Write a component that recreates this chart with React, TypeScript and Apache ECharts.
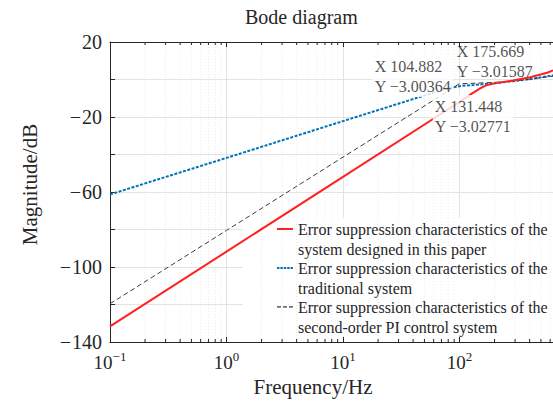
import React, { useEffect, useRef } from 'react';
import * as echarts from 'echarts';

// ---- data ----
const FREQ_RED = [0.1, 1, 10, 100, 128.5, 150.5, 172.8, 210.6, 288.8, 403.9, 565, 636, 700];
const MAG_RED = [-131.7, -91.8, -51.9, -12.0, -7.4, -4.7, -2.9, -1.8, -0.5, 1.2, 3.6, 4.9, 6.0];

const FREQ_BLUE = [0.1, 1, 10, 64.4, 80, 104.9, 128.5, 223.4, 428.6, 636, 700];
const MAG_BLUE = [-61.3, -41.8, -22.2, -6.4, -4.6, -3.4, -3.0, -1.7, 0.4, 2.2, 2.9];

const FREQ_PI = [0.1, 1, 10, 61.9, 99.4, 194.5, 300, 636, 700];
const MAG_PI = [-119.6, -80.5, -41.4, -10.5, -2.3, -1.6, -0.8, 1.8, 2.4];

const TIP_X = [104.882, 175.669, 131.448];
const TIP_Y = [-3.00364, -3.01587, -3.02771];

const NAME_RED = 'Error suppression characteristics of the\nsystem designed in this paper';
const NAME_BLUE = 'Error suppression characteristics of the\ntraditional system';
const NAME_PI = 'Error suppression characteristics of the\nsecond-order PI control system';

const X_MIN = 0.1;
const X_MAX = 1000;
const X_LAST_LABEL = 100;
const Y_MIN = -140;
const Y_MAX = 20;
const Y_STEP = 20;

const MINOR_FREQS = [
  0.2, 0.3, 0.4, 0.5, 0.6, 0.7, 0.8, 0.9,
  2, 3, 4, 5, 6, 7, 8, 9,
  20, 30, 40, 50, 60, 70, 80, 90,
  200, 300, 400, 500, 600, 700, 800, 900,
];

const zip = (xs: number[], ys: number[]) => xs.map((x, i) => [x, ys[i]]);

// legend icons: a short line at the top of a 16x22 box (tiny speck keeps the box height)
const SPECK = ' M0,22H0.01V22.01H0Z';
const ICON_SOLID = 'path://M0,0H16V2H0Z' + SPECK;
const ICON_DOTTED =
  'path://M0,0H2.4V2H0Z M3.4,0H5.8V2H3.4Z M6.8,0H9.2V2H6.8Z M10.2,0H12.6V2H10.2Z M13.6,0H16V2H13.6Z' + SPECK;
const ICON_DASHED = 'path://M0,0.4H4V1.6H0Z M6,0.4H10V1.6H6Z M12,0.4H16V1.6H12Z' + SPECK;

export default function App() {
  const ref = useRef<HTMLDivElement>(null);

  useEffect(() => {
    const chart = echarts.init(ref.current!, null, { renderer: 'svg' });
    const font = 'Liberation Serif';
    const ink = '#262626';

    const xLabel = (v: number) => {
      if (v > X_LAST_LABEL * 1.01) return '';
      const e = Math.round(Math.log10(v));
      const exp = e < 0 ? '−' + Math.abs(e) : String(e);
      return `{b|10}{s|${exp}}`;
    };
    const yLabel = (v: number) => {
      if ((v - Y_MAX) % (2 * Y_STEP) !== 0) return '';
      return v < 0 ? `{m|−}{n|${-v}}` : `{n|${v}}`;
    };

    const tipStyles = [
      { position: [-88.7, -29.6], bg: '#ffffff' },
      { position: [-32.8, -44.6], bg: 'transparent' },
      { position: [-40.1, 10.4], bg: '#ffffff' },
    ];

    const tipData = TIP_X.map((x, i) => ({
      value: [x, TIP_Y[i]],
      label: {
        show: true,
        position: tipStyles[i].position,
        formatter: `X ${x}\nY −${Math.abs(TIP_Y[i])}`,
        backgroundColor: tipStyles[i].bg,
        padding: [1, 2, 1, 2],
        fontFamily: font,
        fontSize: 16,
        lineHeight: 20,
        color: ink,
      },
    }));

    const option: any = {
      animation: false,
      backgroundColor: '#ffffff',
      textStyle: { fontFamily: font },
      title: {
        text: 'Bode diagram',
        left: 240,
        top: 2,
        textStyle: { fontFamily: font, fontSize: 20, fontWeight: 'normal', color: ink },
      },
      grid: { left: 110, right: 4, top: 42, bottom: 62 },
      legend: {
        data: [
          { name: NAME_RED, icon: ICON_SOLID },
          { name: NAME_BLUE, icon: ICON_DOTTED },
          { name: NAME_PI, icon: ICON_DASHED },
        ],
        orient: 'vertical',
        left: 242,
        top: 219,
        padding: [0, 0, 0, 35],
        itemWidth: 16,
        itemHeight: 22,
        itemGap: -1,
        textStyle: {
          fontFamily: font,
          fontSize: 16,
          lineHeight: 20,
          color: ink,
        },
      },
      graphic: [
        {
          type: 'rect',
          z: 1,
          silent: true,
          shape: { x: 243, y: 218, width: 400, height: 118 },
          style: { fill: '#ffffff' },
        },
      ],
      xAxis: [
        {
          type: 'log',
          logBase: 10,
          min: X_MIN,
          max: X_MAX,
          position: 'bottom',
          axisLine: { show: true, onZero: false, lineStyle: { color: ink, width: 1 } },
          axisTick: { show: true, inside: true, length: 5, lineStyle: { color: ink } },
          axisLabel: {
            formatter: xLabel,
            margin: 8,
            rich: {
              b: { fontFamily: font, fontSize: 19, color: ink, lineHeight: 24 },
              s: { fontFamily: font, fontSize: 13, color: ink, verticalAlign: 'top', lineHeight: 14 },
            },
          },
          splitLine: { show: true, lineStyle: { color: '#e3e3e3', width: 1 } },
          name: 'Frequency/Hz',
          nameLocation: 'middle',
          nameGap: 32,
          nameTextStyle: { fontFamily: font, fontSize: 21, color: ink, padding: [0, 60, 0, 0] },
        },
        {
          type: 'log',
          logBase: 10,
          min: X_MIN,
          max: X_MAX,
          position: 'top',
          axisLine: { show: true, onZero: false, lineStyle: { color: ink, width: 1 } },
          axisTick: { show: true, inside: true, length: 5, lineStyle: { color: ink } },
          axisLabel: { show: false },
          splitLine: { show: false },
        },
      ],
      yAxis: {
        type: 'value',
        min: Y_MIN,
        max: Y_MAX,
        interval: Y_STEP,
        axisLine: { show: true, onZero: false, lineStyle: { color: ink, width: 1 } },
        axisTick: { show: true, inside: true, length: 5, lineStyle: { color: ink } },
        axisLabel: {
          formatter: yLabel,
          margin: 8,
          rich: {
            m: { fontFamily: font, fontSize: 20, color: ink, padding: [0, 1, 0, 0] },
            n: { fontFamily: font, fontSize: 20, color: ink },
          },
        },
        splitLine: { show: true, lineStyle: { color: '#e3e3e3', width: 1 } },
        name: 'Magnitude/dB',
        nameLocation: 'middle',
        nameRotate: 90,
        nameGap: 70,
        nameTextStyle: { fontFamily: font, fontSize: 21, color: ink, padding: [0, 0, 0, 15] },
      },
      series: [
        {
          type: 'custom',
          z: 1.5,
          silent: true,
          clip: false,
          data: MINOR_FREQS.map((f) => [f, Y_MIN]),
          encode: { x: 0, y: 1 },
          renderItem: (params: any, api: any) => {
            const f = api.value(0);
            const b = api.coord([f, Y_MIN]);
            const t = api.coord([f, Y_MAX]);
            return {
              type: 'group',
              children: [
                {
                  type: 'line',
                  shape: { x1: b[0], y1: b[1], x2: t[0], y2: t[1] },
                  style: { stroke: '#ebebeb', lineWidth: 1, lineDash: [1, 2] },
                },
                {
                  type: 'line',
                  shape: { x1: b[0], y1: b[1], x2: b[0], y2: b[1] - 3 },
                  style: { stroke: ink, lineWidth: 1 },
                },
                {
                  type: 'line',
                  shape: { x1: t[0], y1: t[1], x2: t[0], y2: t[1] + 3 },
                  style: { stroke: ink, lineWidth: 1 },
                },
              ],
            };
          },
        },
        {
          name: NAME_BLUE,
          type: 'line',
          data: zip(FREQ_BLUE, MAG_BLUE),
          symbol: 'none',
          showSymbol: false,
          lineStyle: { color: '#0072BD', width: 2, type: [3, 1.5] },
          itemStyle: { color: '#0072BD' },
          z: 2,
        },
        {
          name: NAME_PI,
          type: 'line',
          data: zip(FREQ_PI, MAG_PI),
          symbol: 'none',
          showSymbol: false,
          lineStyle: { color: '#3c3c3c', width: 1, type: [5, 3] },
          itemStyle: { color: '#3c3c3c' },
          z: 2,
        },
        {
          name: NAME_RED,
          type: 'line',
          data: zip(FREQ_RED, MAG_RED),
          symbol: 'none',
          showSymbol: false,
          lineStyle: { color: '#ff2020', width: 2 },
          itemStyle: { color: '#ff2020' },
          z: 2,
        },
        {
          type: 'scatter',
          z: 5,
          silent: true,
          symbol: 'circle',
          symbolSize: 1,
          itemStyle: { color: 'transparent' },
          data: tipData,
        },
      ],
    };

    chart.setOption(option);
    return () => chart.dispose();
  }, []);

  return (
    <div
      style={{
        position: 'absolute',
        left: 0,
        top: 0,
        width: 553,
        height: 404,
        overflow: 'hidden',
        background: '#ffffff',
      }}
    >
      <div ref={ref} style={{ width: 580, height: 404 }} />
    </div>
  );
}
